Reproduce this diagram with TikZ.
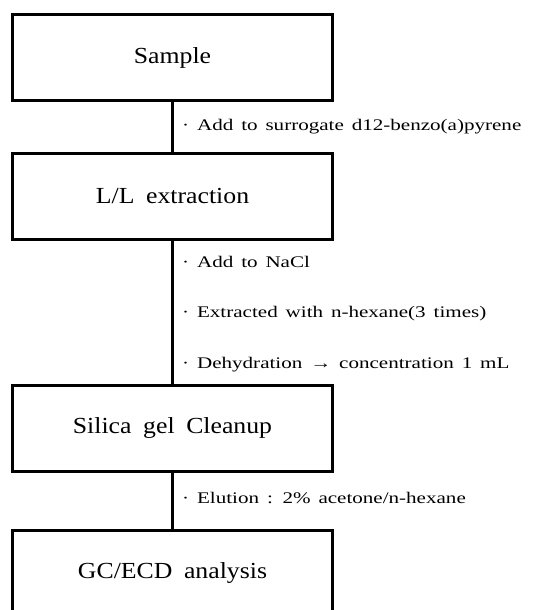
\documentclass[tikz,border=0pt]{standalone}
\usepackage{fontspec}
\setmainfont{Liberation Serif}[FakeStretch=1.12,WordSpace=1.8]
\newfontfamily\notefont{Liberation Serif}[FakeStretch=1.3,WordSpace=1.5]

\begin{document}
\begin{tikzpicture}[x=1pt,y=-1pt,
stepbox/.style={draw=black,line width=3pt,minimum width=320pt,minimum height=86pt,inner sep=0pt,font=\fontsize{23}{27}\selectfont},
notelabel/.style={anchor=west,inner sep=0pt,text height=1.7ex,text depth=.25ex,font=\notefont\fontsize{16.2}{20}\selectfont},
link/.style={line width=2.6pt}]
\useasboundingbox (0,0) rectangle (544,610);
\clip (0,0) rectangle (544,610);
\node at (172.5, 57.5) [stepbox] (sample) {Sample};
\node at (172.5, 196) [stepbox] (llext) {L/L extraction};
\node at (172.5, 428) [stepbox] (silica) {Silica gel Cleanup};
\node at (172.5, 573) [stepbox] (gcecd) {GC/ECD analysis};
\draw [link] (sample) -- (llext);
\draw [link] (llext) -- (silica);
\draw [link] (silica) -- (gcecd);
\node at (182, 127) [notelabel] (surrogate) {· Add to surrogate d12-benzo(a)pyrene};
\node at (182, 264) [notelabel] (nacl) {· Add to NaCl};
\node at (182, 314) [notelabel] (hexane) {· Extracted with n-hexane(3 times)};
\node at (182, 365) [notelabel] (dehyd) {· Dehydration → concentration 1 mL};
\node at (182, 500) [notelabel] (elution) {· Elution : 2\% acetone/n-hexane};
\end{tikzpicture}
\end{document}
